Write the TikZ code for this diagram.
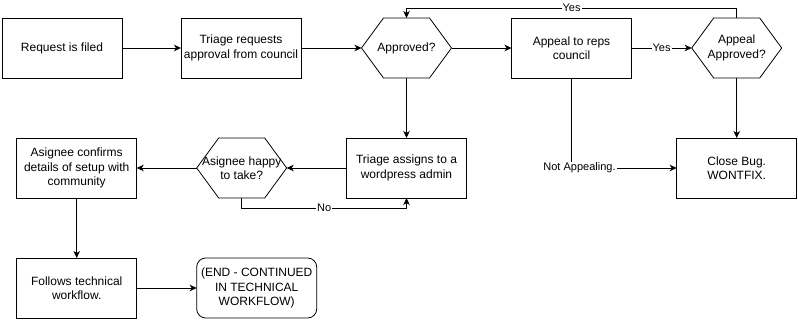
\documentclass[tikz,border=0pt]{standalone}
\usepackage{fontspec}
\setmainfont{Liberation Sans}
\usetikzlibrary{arrows.meta,calc}
\tikzset{
  box/.style={draw,line width=.8pt,minimum width=120,minimum height=60,inner sep=0,outer sep=0,align=center},
  hex/.style={minimum width=90,minimum height=60,inner sep=0,outer sep=0,align=center},
  arr/.style={line width=.8pt,-{Stealth[length=7pt,width=6.5pt,inset=2pt]}},
  lbl/.style={fill=white,inner sep=1pt,font=\fontsize{11}{13}\selectfont}
}
\begin{document}
\begin{tikzpicture}[x=1pt,y=-1pt,font=\fontsize{12}{14.5}\selectfont]
\useasboundingbox (0,0) rectangle (798,323);
% top row
\node[box] (req) at (62,48) {Request is filed};
\node[box] (triage) at (241,48) {Triage requests\\approval from council};
\node[hex] (appr) at (406.5,48) {Approved?};
\node[box] (appeal) at (571.5,48) {Appeal to reps\\council};
\node[hex] (aappr) at (736.7,48) {Appeal\\Approved?};
% middle row
\node[box] (assign) at (406.5,168) {Triage assigns to a\\wordpress admin};
\node[hex] (happy) at (241.7,168) {Asignee happy\\to take?};
\node[box] (confirm) at (76.7,168) {Asignee confirms\\details of setup with\\community};
\node[box] (close) at (736.7,168) {Close Bug.\\WONTFIX.};
% bottom row
\node[box] (follow) at (76.7,288) {Follows technical\\workflow.};
\node[box,rounded corners=9pt] (endn) at (256.7,288) {(END - CONTINUED\\IN TECHNICAL\\WORKFLOW)};
% hexagons
\foreach \n in {appr,aappr,happy}
  \draw[line width=.8pt] ([xshift=22]\n.north west) -- ([xshift=-22]\n.north east) -- (\n.east)
    -- ([xshift=-22]\n.south east) -- ([xshift=22]\n.south west) -- (\n.west) -- cycle;
% connectors
\draw[arr] (req) -- (triage);
\draw[arr] (triage) -- (appr.west);
\draw[arr] (appr.east) -- (appeal);
\draw[arr] (appeal) -- node[lbl]{Yes} (aappr.west);
\draw[arr] (aappr.north) -- ++(0,-10) coordinate (yc) -| node[pos=.25,lbl]{Yes} (appr.north);
\draw[arr] (appr.south) -- (assign);
\draw[arr] (aappr.south) -- (close);
\draw[arr] (appeal) |- node[pos=.5,lbl,xshift=8]{Not Appealing.} (close);
\draw[arr] (assign) -- (happy.east);
\draw[arr] (happy.west) -- (confirm);
\draw[arr] (happy.south) -- ++(0,10) coordinate (nc) -| node[pos=.25,lbl]{No} (assign.south);
\draw[arr] (confirm) -- (follow);
\draw[arr] (follow) -- (endn);
\end{tikzpicture}
\end{document}
